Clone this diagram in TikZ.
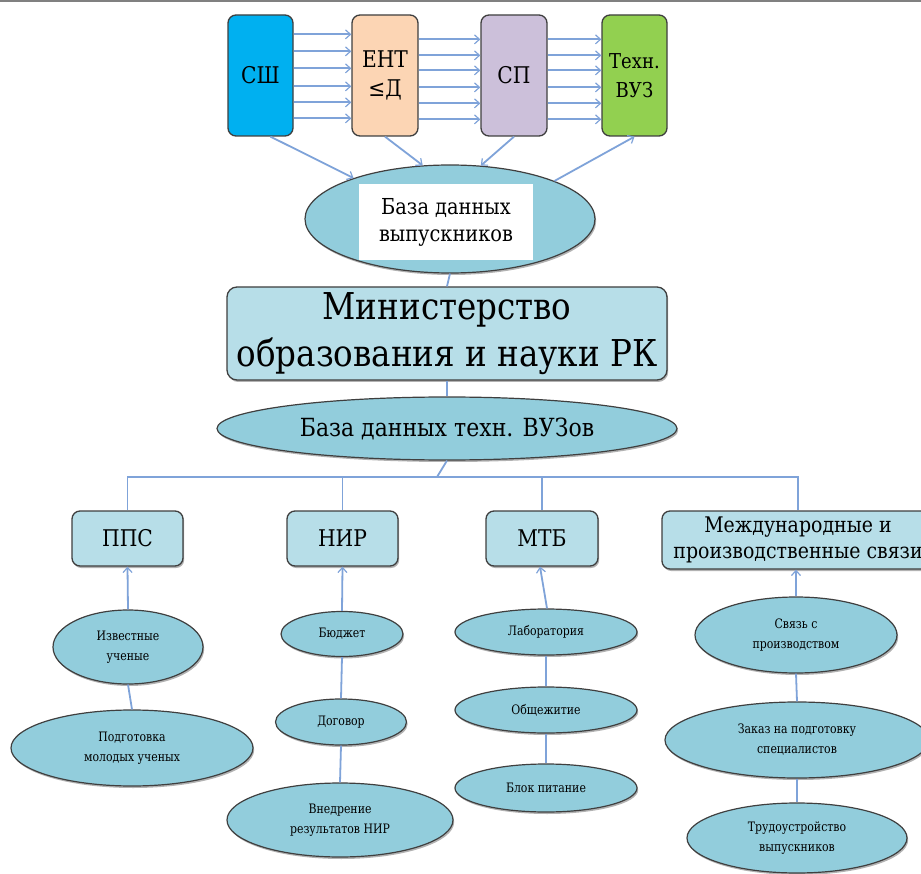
\documentclass[tikz,border=0pt]{standalone}
\usepackage{fontspec}
\setmainfont{DejaVu Serif}[FakeStretch=0.88]
\newfontfamily\smallserif{DejaVu Serif}[FakeStretch=0.84]
\usetikzlibrary{shapes.geometric,arrows.meta,shadows}
\definecolor{edgegray}{HTML}{3F3F3F}
\definecolor{lineblue}{HTML}{7FA3D9}
\definecolor{ellfill}{HTML}{92CDDC}
\definecolor{boxfill}{HTML}{B7DEE8}
\definecolor{cshfill}{HTML}{00B0F0}
\definecolor{entfill}{HTML}{FCD5B4}
\definecolor{spfill}{HTML}{CCC0DA}
\definecolor{tefill}{HTML}{92D050}
\begin{document}
\begin{tikzpicture}[x=1pt,y=-1pt,
  shad/.style={drop shadow={shadow xshift=1.2pt,shadow yshift=-2pt,fill=black,opacity=0.3}},
  topbox/.style={draw=edgegray,line width=1.3pt,rounded corners=8pt,minimum width=65pt,minimum height=121pt,inner sep=0pt,align=center,font=\fontsize{23}{29}\selectfont},
  catbox/.style={draw=edgegray,fill=boxfill,line width=1.3pt,rounded corners=8pt,inner sep=0pt,align=center,shad},
  ell/.style={ellipse,draw=edgegray,fill=ellfill,line width=1.2pt,inner sep=0pt,align=center,shad},
  smell/.style={ell,font=\smallserif\fontsize{13}{20}\selectfont},
  conn/.style={draw=lineblue,line width=1.8pt},
  arr/.style={conn,-{Straight Barb[length=5pt,width=9pt,line width=1.2pt]}},
  toparr/.style={arr,line width=2.2pt}
]
\useasboundingbox (0,0) rectangle (921,874);
\fill[white] (0,0) rectangle (921,874);
\draw[gray,line width=2pt] (0,0.8) -- (921,0.8);

% top row
\node[topbox,fill=cshfill] (sh) at (260.5,75.5) {СШ};
\node[topbox,fill=entfill,minimum width=66pt] (ent) at (385,75.5) {ЕНТ\\≤Д};
\node[topbox,fill=spfill,minimum width=66pt] (sp) at (514,75.5) {СП};
\node[topbox,fill=tefill,font=\fontsize{20.5}{29}\selectfont] (te) at (634.5,75.5) {Техн.\\ВУЗ};

\foreach \d in {20,37,54,72,88,104}
  \draw[toparr] ([yshift=-\d pt]sh.north east) -- ([yshift=-\d pt]ent.north west);
\foreach \d in {25,41,56,73,89,105}{
  \draw[toparr] ([yshift=-\d pt]ent.north east) -- ([yshift=-\d pt]sp.north west);
  \draw[toparr] ([yshift=-\d pt]sp.north east) -- ([yshift=-\d pt]te.north west);
}

% graduates database
\node[ell,minimum width=290pt,minimum height=108pt] (bd) at (450,219) {};
\node[fill=white,minimum width=174pt,minimum height=76pt,inner sep=0pt,align=center,font=\fontsize{22}{27}\selectfont] (bdw) at (446,222) {База данных\\выпускников};

\draw[arr] ([xshift=10pt]sh.south) -- (bd.157);
\draw[arr] (ent.south) -- (bd.117);
\draw[arr] (sp.south) -- (bd.60);
\draw[arr] (bd.20) -- (te.south);

% ministry
\node[catbox,minimum width=440pt,minimum height=93pt,rounded corners=10pt,font=\fontsize{37}{47}\selectfont] (min) at (447,333.5) {Министерство\\образования и науки РК};
\node[ell,minimum width=460pt,minimum height=63pt,font=\fontsize{25}{32}\selectfont] (bv) at (447,428.5) {База данных техн. ВУЗов};

\draw[conn] (bd.south) -- (min.north);
\draw[conn] (min.south) -- (bv.north);

% categories
\node[catbox,minimum width=111pt,minimum height=55pt,font=\fontsize{23}{28}\selectfont] (pps) at (127.5,538.5) {ППС};
\node[catbox,minimum width=111pt,minimum height=55pt,font=\fontsize{23}{28}\selectfont] (nir) at (342.5,538.5) {НИР};
\node[catbox,minimum width=112pt,minimum height=55pt,font=\fontsize{23}{28}\selectfont] (mtb) at (542,538.5) {МТБ};
\node[catbox,minimum width=272pt,minimum height=58pt,font=\fontsize{21.5}{26}\selectfont] (mez) at (798,540) {Международные и\\производственные связи};

\coordinate (bus) at (437,477);
\draw[conn] (bv.south) -- (bus);
\draw[conn] (pps.north) |- (bus) -| (mez.north);
\draw[conn] (nir.north) -- (nir.north |- bus);
\draw[conn] (mtb.north) -- (mtb.north |- bus);

% bottom ellipses
\node[smell,minimum width=150pt,minimum height=74pt] (izv) at (128,647) {Известные\\ученые};
\node[smell,minimum width=242pt,minimum height=76pt] (pod) at (132,748) {Подготовка\\молодых ученых};
\node[smell,minimum width=122pt,minimum height=45pt] (bud) at (342,634) {Бюджет};
\node[smell,minimum width=131pt,minimum height=46pt] (dog) at (341,722) {Договор};
\node[smell,minimum width=226pt,minimum height=74pt] (vne) at (340,820) {Внедрение\\результатов НИР};
\node[smell,minimum width=182pt,minimum height=46pt] (lab) at (546,632) {Лаборатория};
\node[smell,minimum width=182pt,minimum height=46pt] (obs) at (546,710) {Общежитие};
\node[smell,minimum width=182pt,minimum height=48pt] (blk) at (546,788) {Блок питание};
\node[smell,minimum width=202pt,minimum height=76pt] (svz) at (796,635) {Связь с\\производством};
\node[smell,minimum width=264pt,minimum height=76pt] (zak) at (797,740) {Заказ на подготовку\\специалистов};
\node[smell,minimum width=220pt,minimum height=70pt] (trd) at (797,838) {Трудоустройство\\выпускников};

\draw[arr] (izv.north) -- (pps.south);
\draw[arr] (bud.north) -- (nir.south);
\draw[arr] ([xshift=1pt]lab.north) -- ([xshift=-2pt]mtb.south);
\draw[arr] (svz.north) -- ([xshift=-2pt]mez.south);

\draw[conn] (izv.south) -- (pod.north);
\draw[conn] (bud.south) -- (dog.north);
\draw[conn] (dog.south) -- (vne.north);
\draw[conn] (lab.south) -- (obs.north);
\draw[conn] (obs.south) -- (blk.north);
\draw[conn] (svz.south) -- (zak.north);
\draw[conn] (zak.south) -- (trd.north);
\end{tikzpicture}
\end{document}
